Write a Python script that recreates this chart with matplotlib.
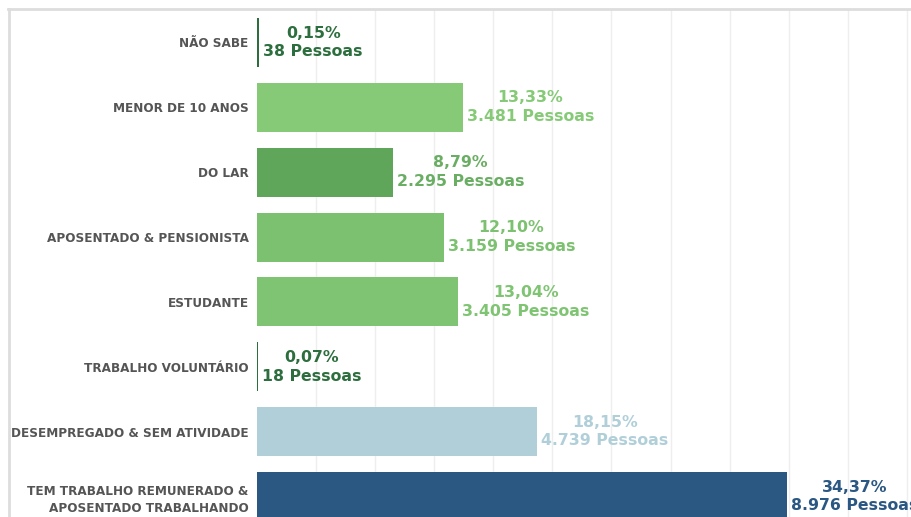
import matplotlib.pyplot as plt
from matplotlib import font_manager
from matplotlib.lines import Line2D

# data
categories = ["NÃO SABE", "MENOR DE 10 ANOS", "DO LAR", "APOSENTADO & PENSIONISTA",
              "ESTUDANTE", "TRABALHO VOLUNTÁRIO", "DESEMPREGADO & SEM ATIVIDADE",
              "TEM TRABALHO REMUNERADO &\nAPOSENTADO TRABALHANDO"]
pessoas = [38, 3481, 2295, 3159, 3405, 18, 4739, 8976]
percent = ["0,15%", "13,33%", "8,79%", "12,10%", "13,04%", "0,07%", "18,15%", "34,37%"]
pessoas_txt = ["38", "3.481", "2.295", "3.159", "3.405", "18", "4.739", "8.976"]

bar_colors = ["#2d6e3e", "#86ca78", "#5fa65a", "#7cc170", "#7fc472", "#2d6e3e", "#b1cfd9", "#2b5783"]
text_colors = ["#2d6e3e", "#86ca78", "#6aae64", "#7cc170", "#7fc472", "#2d6e3e", "#b1cfd9", "#2b5783"]

W, H = 911, 517
fig = plt.figure(figsize=(W / 100, H / 100), dpi=100)

# axes placed in pixel terms: left 257, top 9, to right/bottom edges
ax = fig.add_axes([257 / W, 0, 1 - 257 / W, (H - 9) / H])

y = list(range(len(categories)))
ax.barh(y, pessoas, height=0.754, color=bar_colors, zorder=2)

ax.set_xlim(0, 11070)
ax.set_ylim(7.315, -0.515)
ax.set_xticks(range(1000, 11001, 1000))
ax.xaxis.grid(True, color="#eeeeee", linewidth=1, zorder=0)
ax.tick_params(axis="x", length=0, labelbottom=False)
ax.tick_params(axis="y", length=0, pad=6)
for s in ax.spines.values():
    s.set_visible(False)

# a narrow font for the category names, if one is installed
cond = [f for f in font_manager.fontManager.ttflist
        if "condensed" in str(f.stretch).lower() or "narrow" in f.name.lower()
        or "condensed" in f.name.lower()]
ax.set_yticks(y)
ax.set_yticklabels(categories)
for lab in ax.get_yticklabels():
    lab.set_fontsize(9.2)
    lab.set_fontweight("bold")
    lab.set_color("#555555")
    lab.set_linespacing(1.35)
    if cond:
        bold = [f for f in cond if f.weight in ("bold", 700)] or cond
        lab.set_fontproperties(font_manager.FontProperties(fname=bold[0].fname, size=9.6))
    else:
        lab.set_fontstretch("condensed")

for i, v in enumerate(pessoas):
    ax.annotate(f"{percent[i]}\n{pessoas_txt[i]} Pessoas", xy=(v, i),
                xytext=(3, 0), textcoords="offset points",
                ha="left", va="center", multialignment="center",
                fontsize=11.3, fontweight="bold", color=text_colors[i],
                family="DejaVu Sans", linespacing=1.3, zorder=3)

# light gray frame on the left and top
fig.add_artist(Line2D([8.5 / W, 8.5 / W], [0, 1 - 9 / H], color="#dddddd", linewidth=2,
                      transform=fig.transFigure))
fig.add_artist(Line2D([7.5 / W, 1], [1 - 9 / H, 1 - 9 / H], color="#dddddd", linewidth=2,
                      transform=fig.transFigure))

fig.savefig("out.png", dpi=100)
